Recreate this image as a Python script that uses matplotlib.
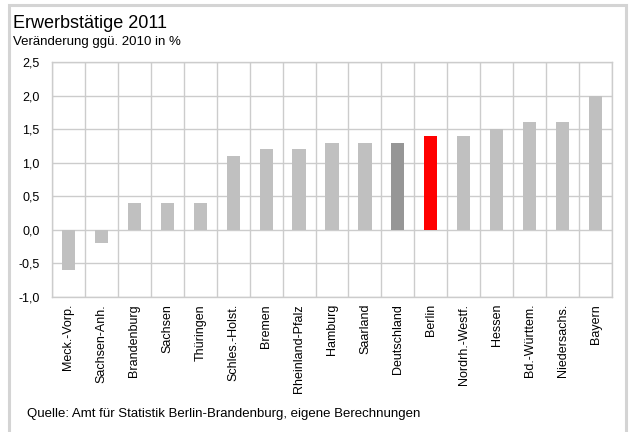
import numpy as np
import matplotlib
matplotlib.use("Agg")
import matplotlib.pyplot as plt
from matplotlib.patches import Rectangle

plt.rcParams["font.family"] = ["Liberation Sans", "DejaVu Sans"]

# Daten
laender = ["Meck.-Vorp.", "Sachsen-Anh.", "Brandenburg", "Sachsen", "Thüringen",
           "Schles.-Holst.", "Bremen", "Rheinland-Pfalz", "Hamburg", "Saarland",
           "Deutschland", "Berlin", "Nordrh.-Westf.", "Hessen", "Bd.-Württem.",
           "Niedersachs.", "Bayern"]
werte = [-0.6, -0.2, 0.4, 0.4, 0.4, 1.1, 1.2, 1.2, 1.3, 1.3,
         1.3, 1.4, 1.4, 1.5, 1.6, 1.6, 2.0]
y_ticks = [-1.0, -0.5, 0.0, 0.5, 1.0, 1.5, 2.0, 2.5]

GRAU = "#c0c0c0"
farben = []
for name in laender:
    if name == "Berlin":
        farben.append("#ff0000")
    elif name == "Deutschland":
        farben.append("#969696")
    else:
        farben.append(GRAU)

W, H = 629, 432
fig = plt.figure(figsize=(W / 100, H / 100), dpi=100)

# äußerer Rahmen
fig.patches.append(Rectangle((9 / W, -0.05), 617 / W, 1.05 - 5 / H,
                             transform=fig.transFigure, fill=False,
                             edgecolor="#d4d4d4", linewidth=2.2))

ax = fig.add_axes([52 / W, 135 / H, 560 / W, 235 / H])
x = np.arange(len(laender))
ax.bar(x, werte, width=0.4, color=farben, zorder=3)

ax.set_xlim(-0.5, len(laender) - 0.5)
ax.set_ylim(-1.0, 2.5)
ax.set_yticks(y_ticks)
ax.set_yticklabels([f"{v:.1f}".replace(".", ",") for v in y_ticks], fontsize=9)
ax.set_xticks(x)
ax.set_xticklabels(laender, rotation=90, fontsize=9, va="top")
ax.set_xticks(np.arange(len(laender) + 1) - 0.5, minor=True)

ax.grid(True, axis="y", color="#cccccc", linewidth=1.0, zorder=0)
ax.grid(True, axis="x", which="minor", color="#cccccc", linewidth=1.0, zorder=0)
ax.tick_params(axis="both", which="both", length=0)
ax.tick_params(axis="y", pad=9)
ax.tick_params(axis="x", pad=5)
for s in ax.spines.values():
    s.set_color("#cccccc")
    s.set_linewidth(1.0)

fig.text(13 / W, 1 - 28 / H, "Erwerbstätige 2011", fontsize=13, va="baseline")
fig.text(13 / W, 1 - 45 / H, "Veränderung ggü. 2010 in %", fontsize=9.5, va="baseline")
fig.text(27 / W, 1 - 417 / H,
         "Quelle: Amt für Statistik Berlin-Brandenburg, eigene Berechnungen",
         fontsize=9.5, va="baseline")

fig.savefig("out.png", dpi=100)
